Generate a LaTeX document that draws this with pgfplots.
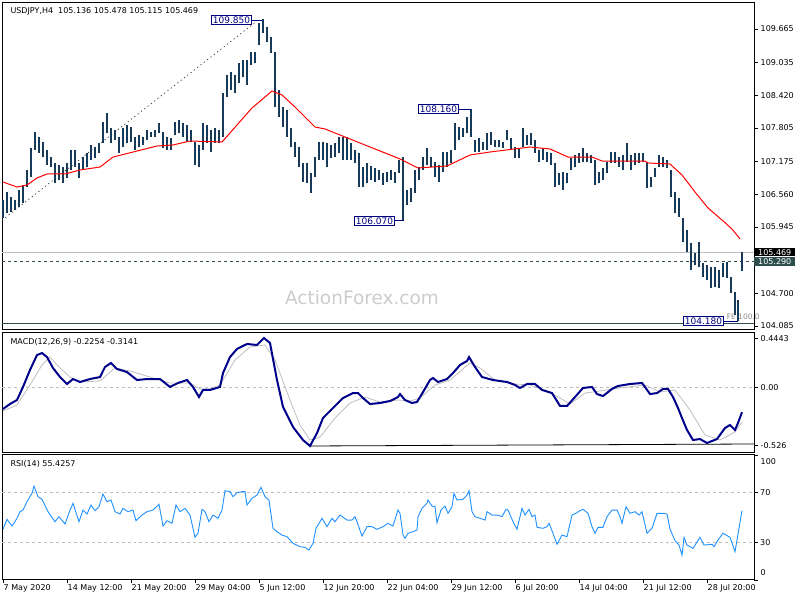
\documentclass[border=0pt]{standalone}
\usepackage{pgfplots}
\usepackage{pgfplotstable}
\usepackage{fontspec}
\setmainfont{DejaVu Sans}
\pgfplotsset{compat=1.18}

\definecolor{barc}{RGB}{22,58,88}
\definecolor{macdc}{RGB}{0,0,139}
\definecolor{sigc}{RGB}{190,190,190}
\definecolor{rsic}{RGB}{30,144,255}
\definecolor{lblc}{RGB}{0,0,128}
\definecolor{slate}{RGB}{47,79,79}

% H4 bars, every 2nd bar: index, high, low
\pgfplotstableread{
i h l
0 106.450 106.112
2 106.600 106.206
4 106.506 106.224
6 106.450 106.262
8 106.638 106.318
10 106.732 106.394
12 107.014 106.694
14 107.428 106.882
16 107.728 107.390
18 107.634 107.334
20 107.540 107.258
22 107.390 107.108
24 107.258 107.070
26 107.146 106.770
28 107.108 106.826
30 107.070 106.770
32 107.146 106.864
34 107.390 107.014
36 107.390 107.070
38 107.146 106.864
40 107.258 107.014
42 107.334 107.070
44 107.484 107.202
46 107.446 107.240
48 107.522 107.334
50 107.916 107.522
52 108.086 107.710
54 107.804 107.522
56 107.766 107.578
58 107.634 107.334
60 107.804 107.446
62 107.860 107.522
64 107.822 107.540
66 107.634 107.390
68 107.672 107.446
70 107.634 107.484
72 107.766 107.578
74 107.728 107.634
76 107.766 107.634
78 107.898 107.710
80 107.728 107.428
82 107.634 107.390
84 107.616 107.390
86 107.916 107.672
88 107.954 107.710
90 107.898 107.634
92 107.860 107.540
94 107.766 107.540
96 107.540 107.108
98 107.484 107.070
100 107.898 107.390
102 107.860 107.522
104 107.766 107.352
106 107.804 107.522
108 107.766 107.522
110 108.462 107.634
112 108.800 108.386
114 108.856 108.518
116 108.800 108.462
118 109.026 108.650
120 109.082 108.762
122 109.082 108.612
124 109.232 108.988
126 109.232 109.026
128 109.778 109.364
130 109.850 109.590
132 109.702 109.420
134 109.514 109.214
136 109.232 108.198
138 108.518 108.010
140 108.198 107.822
142 108.142 107.634
144 107.804 107.446
146 107.540 107.258
148 107.446 107.070
150 107.146 106.788
152 107.146 106.770
154 106.958 106.582
156 107.258 106.882
158 107.540 107.202
160 107.540 107.202
162 107.522 107.070
164 107.484 107.240
166 107.522 107.258
168 107.634 107.334
170 107.634 107.202
172 107.634 107.202
174 107.522 107.202
176 107.390 107.146
178 107.334 106.694
180 107.070 106.694
182 107.146 106.770
184 107.089 106.826
186 107.052 106.788
188 107.014 106.826
190 106.958 106.732
192 106.976 106.788
194 107.014 106.826
196 106.976 106.770
198 107.202 106.958
200 107.258 106.070
202 106.638 106.356
204 106.676 106.412
206 107.014 106.582
208 107.070 106.826
210 107.258 107.014
212 107.428 107.108
214 107.258 107.070
216 107.164 106.882
218 107.108 106.788
220 107.352 106.976
222 107.352 107.070
224 107.390 107.146
226 107.898 107.390
228 107.822 107.578
230 107.804 107.634
232 108.010 107.710
234 108.160 107.634
236 107.578 107.352
238 107.616 107.352
240 107.540 107.390
242 107.710 107.390
244 107.728 107.484
246 107.578 107.446
248 107.578 107.446
250 107.540 107.428
252 107.766 107.578
254 107.616 107.390
256 107.446 107.240
258 107.428 107.240
260 107.804 107.446
262 107.672 107.484
264 107.710 107.484
266 107.578 107.334
268 107.390 107.164
270 107.428 107.202
272 107.352 107.164
274 107.334 107.108
276 107.146 106.694
278 106.958 106.732
280 106.976 106.638
282 106.958 106.770
284 107.240 107.014
286 107.296 107.070
288 107.334 107.146
290 107.428 107.164
292 107.334 107.164
294 107.296 107.146
296 107.202 106.732
298 106.976 106.770
300 107.052 106.826
302 107.164 106.958
304 107.352 107.146
306 107.352 107.146
308 107.258 107.070
310 107.296 107.014
312 107.522 107.164
314 107.296 107.014
316 107.334 107.108
318 107.334 107.146
320 107.334 107.164
322 107.164 106.676
324 106.882 106.694
326 107.052 106.882
328 107.296 107.070
330 107.258 107.070
332 107.202 107.052
334 107.014 106.506
336 106.600 106.206
338 106.488 106.130
340 106.112 105.660
342 105.886 105.472
344 105.642 105.134
346 105.454 105.228
348 105.660 105.190
350 105.266 105.002
352 105.228 104.946
354 105.190 104.796
356 105.190 104.814
358 105.134 104.796
360 105.266 105.002
362 105.284 104.984
364 105.002 104.702
366 104.720 104.288
367.5 104.570 104.180
369.5 105.478 105.115
}\ohlc

\begin{document}
\begin{tikzpicture}[font=\fontsize{8bp}{9.6bp}\selectfont]
\useasboundingbox (0,0) rectangle (800bp,-600bp);

\pgfplotsset{
  panel/.style={
    anchor=north west, width=752bp, scale only axis, clip=false,
    xmin=-0.5, xmax=375.5,
    axis line style={black, line width=0.8bp},
    tick style={black, line width=0.6bp},
    major tick length=4bp, tick align=outside,
    ytick pos=right, yticklabel pos=right,
    yticklabel style={inner sep=1.5bp, xshift=1bp, font=\fontsize{8bp}{9.6bp}\selectfont},
    /pgf/number format/assume math mode=true,
  },
}

% ---- price panel
\begin{axis}[panel, at={(2bp,-2bp)}, height=327bp,
  ymin=104.025, ymax=110.172,
  xtick=\empty,
  ytick={104.085,104.700,105.945,106.560,107.175,107.805,108.420,109.035,109.665},
  yticklabels={104.085,104.700,105.945,106.560,107.175,107.805,108.420,109.035,109.665},
]
\node[text=gray!40, font=\fontsize{18.5bp}{20bp}\selectfont] at (axis cs:179.5,104.608) {ActionForex.com};
\draw[gray!50, line width=0.7bp] (axis cs:-0.5,105.469) -- (axis cs:375.5,105.469);
\draw[slate, dash pattern=on 3bp off 3bp, line width=0.7bp] (axis cs:-0.5,105.290) -- (axis cs:375.5,105.290);
\draw[slate, line width=0.8bp] (axis cs:-0.5,104.13) -- (axis cs:375.5,104.13);
\draw[black!80, dash pattern=on 1.2bp off 3bp, line width=0.7bp] (axis cs:-0.5,106.07) -- (axis cs:127.5,109.83);

\addplot[only marks, mark size=0pt, mark options={draw=none, fill=none},
  error bars/.cd, y dir=plus, y explicit, error mark=none,
  error bar style={line width=1.6bp, color=barc}]
  table[x=i, y=l, y error expr=\thisrow{h}-\thisrow{l}] {\ohlc};

\addplot[red, line width=1bp] coordinates {
(0,106.788) (7,106.694) (12,106.732) (17,106.864) (22,106.939) (31,106.939)
(38.5,107.014) (48.5,107.070) (55,107.258) (65,107.352) (77,107.465) (85,107.484)
(93.5,107.559) (109.5,107.540) (124.5,108.180) (134.5,108.499) (139.5,108.424)
(146,108.198) (151,108.010) (156,107.822) (161,107.785) (171,107.634) (181,107.484)
(186,107.409) (198.5,107.221) (207.5,107.052) (222,107.089) (233.5,107.296)
(243.5,107.352) (263.5,107.446) (273.5,107.409) (282.5,107.258) (294.5,107.258)
(299.5,107.183) (321,107.183) (322.5,107.146) (333.5,107.127) (339.5,106.920)
(346,106.600) (352.5,106.300) (359.5,106.074) (364.5,105.905) (368.5,105.717)
};

\node[anchor=base west, xshift=5bp, yshift=-12bp] at (rel axis cs:0,1)
  {USDJPY,H4\ \ 105.136 105.478 105.115 105.469};

\tikzset{lbl/.style={draw=lblc, fill=white, text=lblc, line width=0.8bp,
  inner xsep=1.5bp, inner ysep=1.2bp, font=\fontsize{9bp}{10bp}\selectfont}}
\draw[lblc, line width=0.8bp] (axis cs:124.5,109.834) -- (axis cs:129.5,109.834);
\node[lbl, anchor=east] at (axis cs:124.5,109.834) {109.850};
\draw[lblc, line width=0.8bp] (axis cs:228,108.16) -- (axis cs:234,108.16);
\node[lbl, anchor=east] at (axis cs:228,108.16) {108.160};
\draw[lblc, line width=0.8bp] (axis cs:196,106.06) -- (axis cs:200.5,106.06);
\node[lbl, anchor=east] at (axis cs:196,106.06) {106.070};
\draw[lblc, line width=0.8bp] (axis cs:360.5,104.175) -- (axis cs:367.5,104.175);
\node[lbl, anchor=east] at (axis cs:360.5,104.175) {104.180};
\node[text=gray!90, anchor=base west, inner sep=0pt, font=\fontsize{7.5bp}{9bp}\selectfont]
  at (axis cs:361.8,104.205) {FE 100.0};

\node[fill=black, text=white, anchor=west, inner xsep=4bp, inner ysep=0bp, minimum height=8.5bp]
  at (axis cs:375.5,105.469) {105.469};
\node[fill=slate, text=white, anchor=west, inner xsep=4bp, inner ysep=0bp, minimum height=9bp]
  at (axis cs:375.5,105.290) {105.290};
\end{axis}

% ---- MACD panel
\begin{axis}[panel, at={(2bp,-332bp)}, height=120bp,
  ymin=-0.5855, ymax=0.5005,
  xtick=\empty,
  ytick={-0.526,0,0.4443}, yticklabels={-0.526,0.00,0.4443},
]
\draw[gray!50, dashed, line width=0.6bp] (axis cs:-0.5,0) -- (axis cs:375.5,0);
\draw[black, line width=0.8bp] (axis cs:153.5,-0.531) -- (axis cs:375.5,-0.513);
\addplot[sigc, line width=0.8bp] coordinates {
(0,-0.214) (7,-0.160) (13.5,0.021) (19.5,0.202) (23.5,0.274) (28.5,0.175) (33.5,0.093)
(38.5,0.048) (48.5,0.057) (56,0.175) (63.5,0.148) (73.5,0.093) (83.5,0.039) (93.5,0.039)
(98.5,-0.015) (103.5,-0.015) (108.5,0.021) (116,0.247) (123.5,0.365) (131,0.383)
(136,0.247) (143.5,-0.115) (148.5,-0.341) (153.5,-0.477) (158.5,-0.450) (166,-0.278)
(173.5,-0.142) (181,-0.088) (188.5,-0.133) (197.5,-0.115) (203.5,-0.124) (208.5,-0.097)
(216,0.021) (223.5,0.066) (233.5,0.220) (238.5,0.175) (246,0.066) (256,0.030)
(263.5,0.021) (271,-0.024) (278.5,-0.097) (283.5,-0.151) (291,-0.052) (298.5,-0.033)
(308.5,-0.006) (321,0.021) (328.5,-0.043) (336,-0.024) (343.5,-0.205) (351,-0.432)
(358.5,-0.477) (366,-0.405) (369.5,-0.3141)
};
\addplot[macdc, line width=2bp] coordinates {
(0,-0.196) (3.5,-0.151) (7,-0.115) (10,0.003) (13.5,0.157) (17,0.292) (19.5,0.310)
(22,0.274) (25,0.175) (28.5,0.093) (32,0.030) (35,0.075) (38.5,0.048) (43.5,0.075)
(48.5,0.093) (51,0.184) (54,0.220) (57,0.166) (62,0.138) (67,0.066) (72,0.075)
(78.5,0.075) (83.5,0.003) (87.5,0.039) (92,0.066) (95,0.003) (98,-0.088) (100,-0.024)
(103.5,-0.024) (108.5,0.003) (110,0.129) (113.5,0.274) (117,0.347) (122,0.392)
(127,0.383) (130.5,0.446) (133.5,0.401) (137,0.066) (140,-0.178) (145,-0.359)
(150,-0.477) (153.5,-0.531) (157,-0.414) (160,-0.278) (165,-0.187) (170,-0.097)
(175,-0.052) (177.5,-0.052) (180,-0.097) (183.5,-0.151) (188.5,-0.142) (193.5,-0.124)
(197.5,-0.088) (198.5,-0.061) (201,-0.115) (204.5,-0.142) (207,-0.133) (210,-0.043)
(213.5,0.066) (215,0.084) (217.5,0.048) (222,0.075) (225,0.129) (228.5,0.202)
(232,0.238) (233,0.274) (236,0.184) (239.5,0.093) (245,0.066) (252,0.048) (256,0.021)
(258.5,-0.006) (262,0.030) (266,0.030) (269.5,-0.024) (274.5,-0.052) (278.5,-0.169)
(282,-0.169) (286,-0.088) (290,-0.006) (294.5,0.003) (297,-0.061) (300,-0.079)
(304.5,-0.015) (307.5,0.012) (313.5,0.030) (319.5,0.039) (321,0.003) (323.5,-0.061)
(327,-0.052) (330,-0.015) (332.5,-0.015) (335,-0.088) (337.5,-0.187) (339.5,-0.278)
(342,-0.386) (345,-0.477) (348.5,-0.468) (352,-0.504) (357,-0.468) (361,-0.368)
(363.5,-0.341) (366,-0.386) (367.5,-0.323) (369.5,-0.2254)
};
\node[anchor=base west, xshift=5bp, yshift=-12bp] at (rel axis cs:0,1)
  {MACD(12,26,9) -0.2254 -0.3141};
\end{axis}

% ---- RSI panel
\begin{axis}[panel, at={(2bp,-454.8bp)}, height=125bp,
  ymin=0, ymax=100,
  ytick={0,30,70,100}, yticklabels={,30,70,},
  xtick={0,32,...,352},
  xtick pos=bottom,
  major tick length=3.5bp,
  xticklabels={7 May 2020,14 May 12:00,21 May 20:00,29 May 04:00,5 Jun 12:00,12 Jun 20:00,22 Jun 04:00,29 Jun 12:00,6 Jul 20:00,14 Jul 04:00,21 Jul 12:00,28 Jul 20:00},
  xticklabel style={anchor=north west, inner sep=1bp, xshift=-0.5bp, font=\fontsize{8bp}{9.6bp}\selectfont},
]
\draw[gray!50, dashed, line width=0.6bp] (axis cs:-0.5,70) -- (axis cs:375.5,70);
\draw[gray!50, dashed, line width=0.6bp] (axis cs:-0.5,30) -- (axis cs:375.5,30);
\addplot[rsic, line width=0.9bp] coordinates {
(0,40.4) (2,48.4) (4.5,43) (7,49.2) (8.5,54.5) (10,55.8) (12,62.5) (14.5,69.2) (15.5,75)
(17.5,66.5) (19.5,64.4) (22.5,54.5) (26,46.5) (28,50.5) (31,44.6) (33.5,55.8) (35,61.2)
(38,46.5) (40,55.8) (42,52.6) (44,59.8) (46,55.3) (48,58.5) (50,68.6) (52,62.5) (54,63.8)
(56,54.5) (58.5,52.6) (60,57.2) (62.5,54.5) (65,55.8) (66.5,47.3) (69.5,51.8) (72,54.5)
(75,55.8) (78,60.4) (80,43) (82,47.3) (84.5,45.2) (86.5,59.8) (88.5,54.5) (91,57.2)
(93.5,51.8) (96,34) (97.5,37.2) (99.5,56.4) (101,54.5) (103,46.5) (105,51.8) (107.5,49.2)
(109.5,55.8) (111,71.3) (113.5,70.5) (115,66.5) (117,69.7) (119.5,70.5) (121,70.5)
(122,59.8) (124.5,65.2) (127,67.8) (129,74) (131,66.5) (133,63.8) (135,41.2) (137,38.5)
(139.5,35.8) (142,34.5) (145,29.2) (148.5,26.5) (151,26) (153,23.8) (155,29.2) (156.5,41.2)
(159.5,49.2) (162,42.5) (164.5,49.2) (166,46.5) (168.5,51.8) (172,47.8) (174.5,47.8)
(176,50.5) (177,46.5) (179.5,35) (182,42.5) (184.5,42.5) (187,40.4) (190,42.5) (192.5,45.2)
(195,43) (197.5,55.8) (198.5,53.2) (200,35.8) (201,33.2) (202.5,37.2) (205,38.5) (207,39.8)
(207.5,50.5) (209.5,57.2) (212,61.2) (212.5,63.8) (214.5,59) (216,58.5) (217,45.7) (219,55.8)
(221,59) (222.5,53.2) (224.5,58.5) (225.5,69.2) (227,63.8) (230,64.4) (232,67.8) (233,71.3)
(234.5,54.5) (236,50.5) (238.5,49.2) (241,47.8) (242,54.5) (244.5,51.8) (247.5,51.8)
(249.5,50.5) (251.5,56.4) (252.5,55.8) (255,46.5) (257,40.4) (259.5,57.2) (261,51.8)
(263,56.4) (264.5,50.5) (266,51.8) (267,42) (270,41.2) (272,42.5) (273,45.2) (275,37.2)
(277,28.4) (279.5,35.8) (282,34.5) (284.5,51.8) (287,53.7) (288.5,55.3) (290,56.4)
(292.5,53.2) (294.5,42.5) (296,37.2) (297.5,42) (300,42) (302,50.5) (304.5,55.8) (307,55.8)
(308.5,50.5) (309.5,45.2) (311.5,58.5) (313.5,53.2) (316,54.5) (318,51.8) (319.5,54.5)
(322,37.2) (324.5,41.2) (327,53.2) (330,53.2) (332,52.6) (333.5,40.6) (336,31.3) (338,27.8)
(339.5,19.8) (340.5,34) (342,27.8) (345,25.2) (348.5,34) (350.5,27.8) (354.5,28.4)
(355.5,26.5) (357.5,31.8) (360,37.2) (363.5,34) (366,22.5) (367,31.8) (369.5,55.4)
};
\node[anchor=base west, xshift=5bp, yshift=-12bp] at (rel axis cs:0,1) {RSI(14) 55.4257};
\node[anchor=west, inner sep=1.5bp, xshift=5bp] at (rel axis cs:1,0.945) {100};
\node[anchor=west, inner sep=1.5bp, xshift=5bp] at (rel axis cs:1,0.057) {0};
\end{axis}
\end{tikzpicture}
\end{document}
